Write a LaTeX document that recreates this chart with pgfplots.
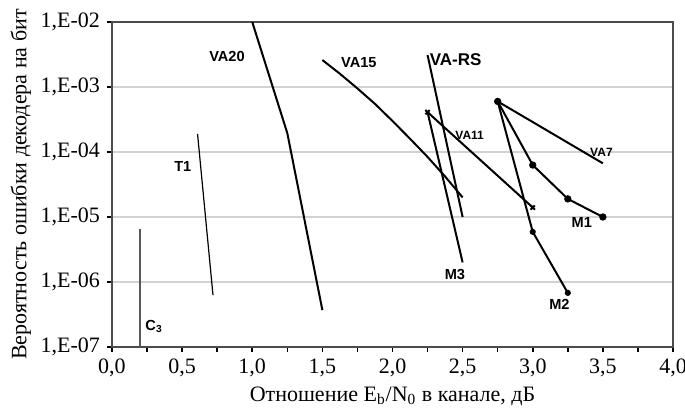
\documentclass[border=0pt]{standalone}
\usepackage{fontspec}
\setmainfont{Liberation Serif}
\newfontfamily\lsans{Liberation Sans}
\usepackage{pgfplots}
\pgfplotsset{compat=1.18}
\usetikzlibrary{calc}

\newcommand{\cl}{\lsans\bfseries\fontsize{7.3}{8}\selectfont}

\begin{document}
\begin{tikzpicture}
\begin{axis}[
  scale only axis, width=280.5pt, height=162.5pt,
  ymode=log,
  xmin=0, xmax=4, ymin=1e-7, ymax=1e-2,
  xtick={0,0.5,1,1.5,2,2.5,3,3.5,4},
  xticklabels={{0,0},{0,5},{1,0},{1,5},{2,0},{2,5},{3,0},{3,5},{4,0}},
  minor x tick num=1,
  ytick={1e-7,1e-6,1e-5,1e-4,1e-3,1e-2},
  yticklabels={{1,E-07},{1,E-06},{1,E-05},{1,E-04},{1,E-03},{1,E-02}},
  yminorticks=false,
  ymajorgrids, grid style={gray!35, line width=0.6pt},
  tick align=outside, tick pos=left,
  major tick length=2.5pt, minor tick length=2.5pt,
  tick style={black, line width=0.8pt},
  axis line style={black!70, line width=1.3pt},
  ticklabel style={font=\fontsize{11}{12}\selectfont},
  label style={font=\fontsize{11}{12}\selectfont},
  xlabel={Отношение E\textsubscript{b}/N\textsubscript{0} в канале, дБ},
  ylabel={Вероятность ошибки декодера на бит},
  xlabel style={yshift=2pt},
  ylabel style={yshift=-2pt},
  clip=false,
]
\coordinate (sw) at (rel axis cs:0,0);
\coordinate (ne) at (rel axis cs:1,1);

% C3
\addplot[black!65, line width=1pt, mark=none] coordinates {(0.2,6.5e-6) (0.2,1e-7)};
% T1
\addplot[black, line width=0.6pt, mark=none] coordinates {(0.61,1.9e-4) (0.72,6.3e-7)};
% VA20
\addplot[black, line width=1pt, mark=none] coordinates {(1.0,1e-2) (1.25,1.95e-4) (1.5,3.7e-7)};
% VA15
\addplot[black, line width=1pt, mark=none] coordinates {
  (1.5,2.6e-3) (1.625,1.6e-3) (1.75,9.5e-4) (1.875,5.5e-4) (2.0,3.0e-4)
  (2.125,1.6e-4) (2.25,8.4e-5) (2.375,4.2e-5) (2.5,2.0e-5)};
% VA-RS
\addplot[black, line width=1pt, mark=none] coordinates {(2.25,3.1e-3) (2.5,1e-5)};
% M3
\addplot[black, line width=1pt, mark=none] coordinates {(2.25,4.1e-4) (2.5,2e-6)};
% VA11
\addplot[black, line width=1pt, mark=x, mark size=1.5pt] coordinates {(2.25,4.1e-4) (3.0,1.4e-5)};
% VA7
\addplot[black, line width=1pt, mark=none] coordinates {(2.75,6e-4) (3.5,6.7e-5)};
% M1
\addplot[black, line width=1pt, mark=*, mark size=1.3pt] coordinates {(2.75,6e-4) (3.0,6.3e-5) (3.25,1.9e-5) (3.5,1e-5)};
% M2
\addplot[black, line width=1pt, mark=*, mark size=1pt] coordinates {(2.75,6e-4) (3.0,5.9e-6) (3.25,6.8e-7)};

\node[font=\cl] at (axis cs:0.82,2.9e-3) {VA20};
\node[font=\cl] at (axis cs:1.76,2.35e-3) {VA15};
\node[font=\lsans\bfseries\fontsize{8.5}{9}\selectfont] at (axis cs:2.45,2.6e-3) {VA-RS};
\node[font=\lsans\bfseries\fontsize{6}{7}\selectfont] at (axis cs:2.55,1.8e-4) {VA11};
\node[font=\lsans\bfseries\fontsize{6}{7}\selectfont] at (axis cs:3.49,1e-4) {VA7};
\node[font=\cl] at (axis cs:3.35,8.3e-6) {M1};
\node[font=\cl] at (axis cs:3.19,4.5e-7) {M2};
\node[font=\cl] at (axis cs:2.445,1.3e-6) {M3};
\node[font=\cl] at (axis cs:0.505,5.9e-5) {T1};
\node[font=\cl] at (axis cs:0.30,2.05e-7) {C\textsubscript{3}};
\end{axis}
\pgfresetboundingbox
\path[use as bounding box] ($(sw)+(-56pt,-33pt)$) rectangle ($(ne)+(6pt,11pt)$);
\end{tikzpicture}
\end{document}
